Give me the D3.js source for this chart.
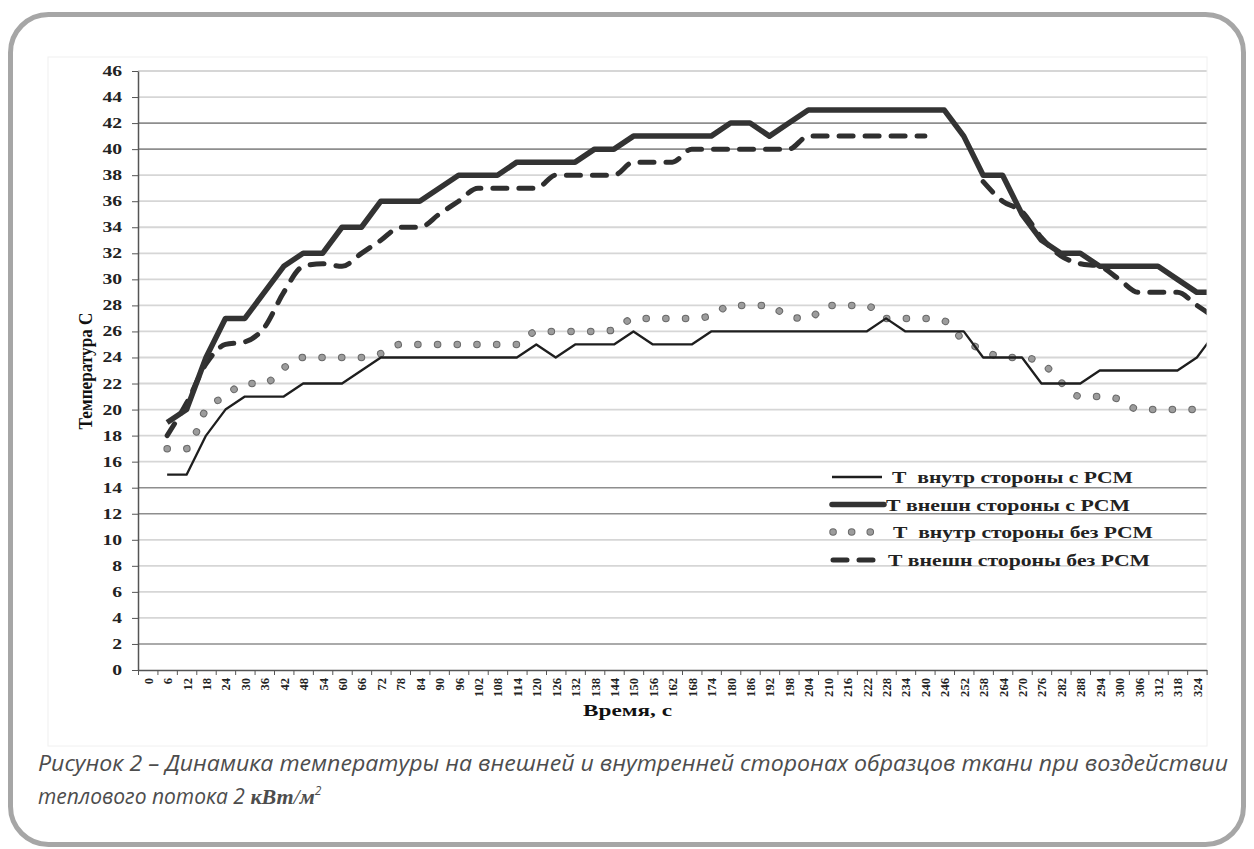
<!DOCTYPE html>
<html><head><meta charset="utf-8">
<script src="https://cdn.jsdelivr.net/npm/d3@7"></script>
<style>body{margin:0;background:#fff} svg{display:block} text{white-space:pre}</style>
</head><body><svg id="c" width="1254" height="849"></svg>
<script>
// ---- data ----
const times = [0,6,12,18,24,30,36,42,48,54,60,66,72,78,84,90,96,102,108,114,120,126,132,138,144,150,156,162,168,174,180,186,192,198,204,210,216,222,228,234,240,246,252,258,264,270,276,282,288,294,300,306,312,318,324,330];
const xTickLabels = ["0","6","12","18","24","30","36","42","48","54","60","66","72","78","84","90","96","102","108","114","120","126","132","138","144","150","156","162","168","174","180","186","192","198","204","210","216","222","228","234","240","246","252","258","264","270","276","282","288","294","300","306","312","318","324"];
const yTicks = [0,2,4,6,8,10,12,14,16,18,20,22,24,26,28,30,32,34,36,38,40,42,44,46];
// Т внутр стороны с PCM (thin solid)
const innerPCM = [null,15,15,18,20,21,21,21,22,22,22,23,24,24,24,24,24,24,24,24,25,24,25,25,25,26,25,25,25,26,26,26,26,26,26,26,26,26,27,26,26,26,26,24,24,24,22,22,22,23,23,23,23,23,24,26];
// Т внешн стороны с PCM (thick solid)
const outerPCM = [null,19,20,24,27,27,29,31,32,32,34,34,36,36,36,37,38,38,38,39,39,39,39,40,40,41,41,41,41,41,42,42,41,42,43,43,43,43,43,43,43,43,41,38,38,35,33,32,32,31,31,31,31,30,29,29];
// Т внутр стороны без PCM (dotted)
const innerNoPCM = [null,17,17,20,21,22,22,23.2,24,24,24,24,24.3,25,25,25,25,25,25,25,26,26,26,26,26.1,27,27,27,27,27.2,28,28,28,27.1,27,28,28,28,27,27,27,26.8,25.3,24.6,24,24,23.6,22.1,21,21,20.8,20,20,20,20,20];
// Т внешн стороны без PCM (dashed)
const outerNoPCM = [null,18,20.5,23.5,25,25.2,26.3,29,31,31.2,31,32,33,34,34,35,36,37,37,37,37,38,38,38,38,39,39,39,40,40,40,40,40,40,41,41,41,41,41,41,41,null,null,37.5,36,35.2,33.2,31.8,31.2,31,30,29,29,29,28,27];
const seriesNames = ["Т  внутр стороны с PCM","Т внешн стороны с PCM","Т  внутр стороны без PCM","Т внешн стороны без PCM"];
const yTitle = "Температура С";
const xTitle = "Время, с";
const caption1 = "Рисунок 2 – Динамика температуры на внешней и внутренней сторонах образцов ткани при воздействии";
const caption2 = "теплового потока 2 ";

// ---- drawing ----
const svg = d3.select("#c");
svg.append("rect").attr("x",10.5).attr("y",14.5).attr("width",1233).attr("height",830)
  .attr("rx",38).attr("fill","#fff").attr("stroke","#a6a6a6").attr("stroke-width",5);
svg.append("rect").attr("x",48).attr("y",57).attr("width",1159).attr("height",689)
  .attr("fill","#fff").attr("stroke","#f0f0f0");

const x = d3.scaleLinear().domain([-3,327]).range([138,1206.6]);
const y = d3.scaleLinear().domain([0,46]).range([670,71]);

svg.append("clipPath").attr("id","clip").append("rect")
  .attr("x",138).attr("y",50).attr("width",1068.6).attr("height",630);

const dark = new Set([2,12,14,40,42]);
svg.append("g").selectAll("line").data(yTicks.filter(d=>d>0)).join("line")
  .attr("x1",138).attr("x2",1206.6).attr("y1",d=>y(d)).attr("y2",d=>y(d))
  .attr("stroke",d=>dark.has(d)?"#8e8e8e":"#d6d6d6").attr("stroke-width",d=>dark.has(d)?1.6:1.8);

const yAxis = svg.append("g").attr("transform","translate(138,0)")
  .call(d3.axisLeft(y).tickValues(yTicks).tickSize(6).tickSizeOuter(0).tickPadding(10));
yAxis.select(".domain").attr("stroke","#555").attr("stroke-width",1.5);
yAxis.selectAll(".tick line").attr("stroke","#555");
yAxis.selectAll("text").attr("font-family","Liberation Serif").attr("font-weight","bold")
  .attr("font-size",14).attr("fill","#222")
  .attr("textLength",d=>String(d).length*9.8).attr("lengthAdjust","spacingAndGlyphs");

const bounds = xTickLabels.map(t=>+t-3).concat([327]);
const xTickAxis = svg.append("g").attr("transform","translate(0,670)")
  .call(d3.axisBottom(x).tickValues(bounds).tickSize(5).tickSizeOuter(0).tickFormat(""));
xTickAxis.select(".domain").attr("stroke","#555").attr("stroke-width",1.5);
xTickAxis.selectAll(".tick line").attr("stroke","#555");

const xLab = svg.append("g").attr("transform","translate(0,670)")
  .call(d3.axisBottom(x).tickValues(xTickLabels.map(Number)).tickSize(0).tickFormat(d=>String(d)));
xLab.select(".domain").remove();
xLab.selectAll("text").attr("transform","rotate(-90)").attr("text-anchor","end")
  .attr("x",-8).attr("y",0).attr("dy","0.36em")
  .attr("font-family","Liberation Serif").attr("font-weight","bold").attr("font-size",12.5).attr("fill","#222")
  .attr("textLength",d=>String(d).length*6.3).attr("lengthAdjust","spacingAndGlyphs");

const mk = arr => times.map((t,i)=>({t, v:arr[i]}));
const lineGen = curve => d3.line().defined(d=>d.v!=null).x(d=>x(d.t)).y(d=>y(d.v)).curve(curve);
const plot = svg.append("g").attr("clip-path","url(#clip)");

plot.append("path").attr("d",lineGen(d3.curveMonotoneX)(mk(outerNoPCM)))
  .attr("fill","none").attr("stroke","#2f2f2f").attr("stroke-width",5)
  .attr("stroke-dasharray","14,12").attr("stroke-linecap","round");
const dotted = lineGen(d3.curveMonotoneX)(mk(innerNoPCM));
plot.append("path").attr("d",dotted).attr("fill","none").attr("stroke","#6a6a6a").attr("stroke-width",7.5)
  .attr("stroke-dasharray","0.1,19.6").attr("stroke-linecap","round");
plot.append("path").attr("d",dotted).attr("fill","none").attr("stroke","#9c9c9c").attr("stroke-width",5.5)
  .attr("stroke-dasharray","0.1,19.6").attr("stroke-linecap","round");
plot.append("path").attr("d",lineGen(d3.curveLinear)(mk(innerPCM)))
  .attr("fill","none").attr("stroke","#1e1e1e").attr("stroke-width",2.3).attr("stroke-linejoin","round");
plot.append("path").attr("d",lineGen(d3.curveLinear)(mk(outerPCM)))
  .attr("fill","none").attr("stroke","#333").attr("stroke-width",5.5).attr("stroke-linejoin","round");

// legend
const leg = svg.append("g");
const rows = [
  {y:477, tx:892, tl:241},
  {y:504.5, tx:886, tl:244},
  {y:532, tx:893, tl:260},
  {y:560, tx:888, tl:262}
];
leg.append("line").attr("x1",832).attr("x2",882).attr("y1",rows[0].y).attr("y2",rows[0].y)
  .attr("stroke","#1e1e1e").attr("stroke-width",2.3);
leg.append("line").attr("x1",832).attr("x2",884).attr("y1",rows[1].y).attr("y2",rows[1].y)
  .attr("stroke","#333").attr("stroke-width",5.5).attr("stroke-linecap","round");
leg.append("line").attr("x1",833).attr("x2",872).attr("y1",rows[2].y).attr("y2",rows[2].y)
  .attr("stroke","#6a6a6a").attr("stroke-width",7.5).attr("stroke-dasharray","0.1,18.5").attr("stroke-linecap","round");
leg.append("line").attr("x1",833).attr("x2",872).attr("y1",rows[2].y).attr("y2",rows[2].y)
  .attr("stroke","#9c9c9c").attr("stroke-width",5.5).attr("stroke-dasharray","0.1,18.5").attr("stroke-linecap","round");
leg.append("line").attr("x1",833).attr("x2",873).attr("y1",rows[3].y).attr("y2",rows[3].y)
  .attr("stroke","#2f2f2f").attr("stroke-width",5).attr("stroke-dasharray","14,12").attr("stroke-linecap","round");
leg.selectAll("text").data(seriesNames).join("text")
  .attr("x",(d,i)=>rows[i].tx).attr("y",(d,i)=>rows[i].y+6)
  .attr("font-family","Liberation Serif").attr("font-weight","bold").attr("font-size",17).attr("fill","#222")
  .attr("textLength",(d,i)=>rows[i].tl).attr("lengthAdjust","spacingAndGlyphs").text(d=>d);

// axis titles
svg.append("text").attr("transform","translate(92,371) rotate(-90)").attr("text-anchor","middle")
  .attr("font-family","Liberation Serif").attr("font-weight","bold").attr("font-size",18).attr("fill","#111")
  .attr("textLength",117).attr("lengthAdjust","spacingAndGlyphs").text(yTitle);
svg.append("text").attr("x",583).attr("y",716)
  .attr("font-family","Liberation Serif").attr("font-weight","bold").attr("font-size",17).attr("fill","#111")
  .attr("textLength",89).attr("lengthAdjust","spacingAndGlyphs").text(xTitle);

// caption
svg.append("text").attr("x",38).attr("y",771)
  .attr("font-family","Open Sans").attr("font-style","italic").attr("font-size",21).attr("fill","#4d4d4d")
  .attr("textLength",1190).attr("lengthAdjust","spacingAndGlyphs").text(caption1);
const c2 = svg.append("text").attr("x",38).attr("y",804)
  .attr("font-family","Open Sans").attr("font-style","italic").attr("font-size",21).attr("fill","#4d4d4d");
c2.append("tspan").text(caption2);
c2.append("tspan").attr("font-family","Liberation Serif").attr("font-weight","bold").attr("font-size",22).text("кВт");
c2.append("tspan").attr("font-family","Liberation Serif").attr("font-size",22).text("/");
c2.append("tspan").attr("font-family","Liberation Serif").attr("font-weight","bold").attr("font-size",22).text("м");
c2.append("tspan").attr("font-size",12).attr("dy",-9).text("2");
</script></body></html>
